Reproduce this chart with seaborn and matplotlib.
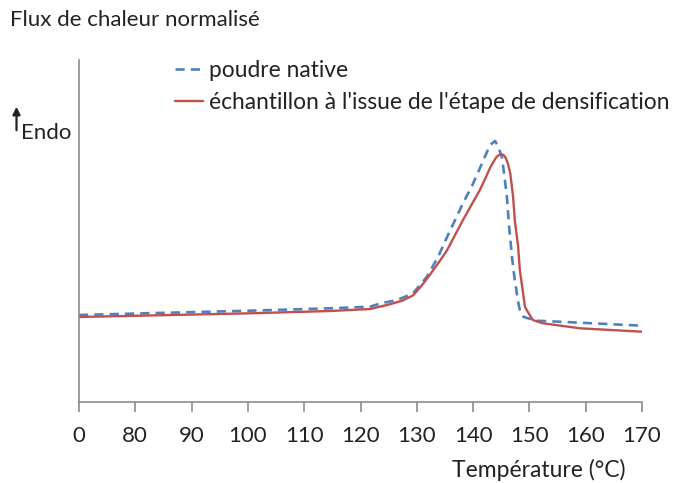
import matplotlib
matplotlib.use("Agg")
import matplotlib.pyplot as plt
import seaborn as sns
import pandas as pd

# x in temperature units; the first tick (position 70) is labelled "0"
tick_pos = [70, 80, 90, 100, 110, 120, 130, 140, 150, 160, 170]
tick_labels = ["0", "80", "90", "100", "110", "120", "130", "140", "150", "160", "170"]

native_T = [70, 85.3, 100.4, 114.6, 121.7, 123.5, 126.5, 129.3, 131.8, 133.8, 135.4, 138.2, 139.8,
            141.2, 143.0, 143.9, 144.4, 145.1, 145.5, 146.0, 146.4, 146.9, 147.4, 148.0, 148.3,
            148.9, 149.6, 151.3, 159.0, 170]
native_v = [87, 89.2, 91.3, 93.7, 95.3, 98.5, 102, 108.5, 125.3, 145.3, 165.3, 198.7, 216,
            233.7, 257, 261, 256, 245.3, 228.7, 205.3, 175.3, 145.3, 122, 100.3, 92,
            85.3, 84, 81.3, 79.3, 76.3]

dens_T = [70, 100.4, 114.6, 121.7, 125.2, 127.5, 129.3, 130.8, 132.3, 133.9, 135.4, 136.8, 138.2,
          139.7, 141.2, 142.2, 143.0, 143.7, 144.2, 144.7, 145.1, 145.5, 145.8, 146.2, 146.6,
          147.1, 147.4, 148.0, 148.3, 148.8, 149.2, 149.7, 150.6, 152.4, 159.0, 170]
dens_v = [85, 88.7, 91, 93, 97.7, 101.5, 106.5, 116, 127, 139.5, 152, 167, 182,
          197, 212, 224, 234, 241, 245.3, 247.3, 247.7, 246.5, 244, 238, 228.7,
          205.3, 182, 155.3, 132, 112, 95.3, 90.3, 82, 78.7, 73.7, 70.3]

label_native = "poudre native"
label_dens = "échantillon à l'issue de l'étape de densification"

sns.set_style("white")
plt.rcParams['font.family'] = ['Lato', 'DejaVu Sans']

fig = plt.figure(figsize=(6.73, 4.83), dpi=100)
ax = fig.add_axes([79/673, 1 - 402/483, (642 - 79)/673, (402 - 60)/483])

df_n = pd.DataFrame({"T": native_T, "v": native_v})
df_d = pd.DataFrame({"T": dens_T, "v": dens_v})
sns.lineplot(data=df_n, x="T", y="v", ax=ax, color="#4F81BD", linewidth=1.9,
             linestyle=(0, (3.5, 2.3)), label=label_native)
sns.lineplot(data=df_d, x="T", y="v", ax=ax, color="#C0504D", linewidth=1.7,
             label=label_dens)

ax.set_xlim(70, 170)
ax.set_ylim(0, 342)
ax.set_xticks(tick_pos)
ax.set_xticklabels(tick_labels, fontsize=16, color="#222222")
ax.set_yticks([])
ax.set_xlabel("")
ax.set_ylabel("")
for s in ["top", "right"]:
    ax.spines[s].set_visible(False)
for s in ["left", "bottom"]:
    ax.spines[s].set_color("#8c8c8c")
    ax.spines[s].set_linewidth(1.2)
ax.tick_params(axis="x", direction="out", length=7, width=1.2, color="#8c8c8c", pad=10.5, bottom=True)

leg = ax.legend(loc="upper left", bbox_to_anchor=(175/673, 1 - 60/483), bbox_transform=fig.transFigure,
                frameon=False, fontsize=16.4, handlelength=1.24, handletextpad=0.26,
                labelspacing=0.5, borderaxespad=0, borderpad=0)
for t in leg.get_texts():
    t.set_color("#222222")

fig.text(10/673, 1 - 20/483, "Flux de chaleur normalisé", fontsize=16, va="center", ha="left", color="#222222")
fig.add_artist(matplotlib.patches.FancyArrowPatch((16.5, 483 - 133), (16.5, 483 - 104),
               transform=None, arrowstyle="-|>", mutation_scale=11, color="#222222", lw=1.6))
fig.text(21/673, 1 - 139/483, "Endo", fontsize=16, va="baseline", ha="left", color="#222222")
fig.text(539/673, 1 - 470/483, "Température (°C)", fontsize=16.5, va="center", ha="center", color="#222222")

fig.savefig("out.png", dpi=100)
